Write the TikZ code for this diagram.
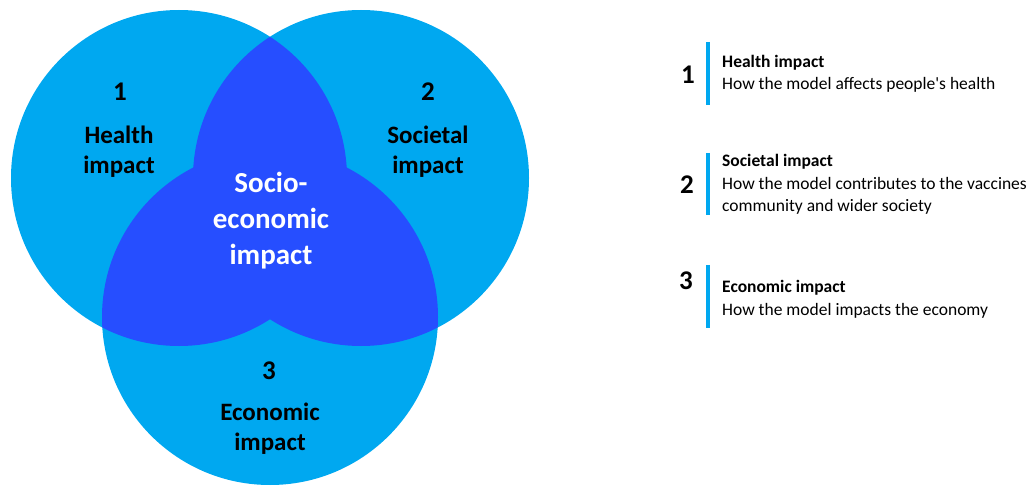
\documentclass[tikz,border=0pt]{standalone}
\usepackage{fontspec}
\setmainfont{Carlito}
\usetikzlibrary{calc}
\definecolor{lightblue}{RGB}{0,168,240}
\definecolor{deepblue}{RGB}{38,78,255}
\def\vennradius{168pt}
\tikzset{
	vennlabel/.style={align=center, inner sep=0pt, font=\fontsize{25}{30}\selectfont\bfseries},
	vennnum/.style={inner sep=0pt, anchor=base, font=\fontsize{27}{30}\selectfont\bfseries},
	centrelabel/.style={align=center, inner sep=0pt, text=white, font=\fontsize{29}{36}\selectfont\bfseries},
	listnum/.style={inner sep=0pt, anchor=base, font=\fontsize{27}{30}\selectfont\bfseries},
	listtext/.style={align=left, inner sep=0pt, anchor=base west, font=\fontsize{17.5}{22.5}\selectfont},
	listbar/.style={draw=lightblue, line width=4pt}
}

\begin{document}
\begin{tikzpicture}[x=1pt,y=-1pt]
				%%%%% START %%%%%
				\useasboundingbox (0,0) rectangle (1031,489);

				\coordinate (health) at (179,178);
				\coordinate (societal) at (361,178);
				\coordinate (economic) at (270,317);

				\fill[lightblue] (health) circle (\vennradius);
				\fill[lightblue] (societal) circle (\vennradius);
				\fill[lightblue] (economic) circle (\vennradius);

				\begin{scope}
					\clip (health) circle (\vennradius);
					\fill[deepblue] (societal) circle (\vennradius);
					\fill[deepblue] (economic) circle (\vennradius);
				\end{scope}
				\begin{scope}
					\clip (societal) circle (\vennradius);
					\fill[deepblue] (economic) circle (\vennradius);
				\end{scope}

				% anchor=base sits on the last line
				\node[vennnum] (num1) at (120,101) {1};
				\node[vennlabel, anchor=base] (health label) at (119,174) {Health\\impact};
				\node[vennnum] (num2) at (428,101) {2};
				\node[vennlabel, anchor=base] (societal label) at (428,174) {Societal\\impact};
				\node[vennnum] (num3) at (269,379) {3};
				\node[vennlabel, anchor=base] (economic label) at (270,450) {Economic\\impact};
				\node[centrelabel, anchor=base] (socio label) at (271,265) {Socio-\\economic\\impact};

				% list on the right
				\draw[listbar] (708,42) -- (708,105);
				\node[listnum] (item1 num) at (688,84) {1};
				\node[listtext] (item1 text) at (722,90) {\textbf{Health impact}\\How the model affects people\textquotesingle s health};

				\draw[listbar] (708,153) -- (708,215);
				\node[listnum] (item2 num) at (687,194) {2};
				\node[listtext] (item2 text) at (722,212) {\textbf{Societal impact}\\How the model contributes to the vaccines\\community and wider society};

				\draw[listbar] (708,265) -- (708,328);
				\node[listnum] (item3 num) at (686,290) {3};
				\node[listtext] (item3 text) at (722,315) {\textbf{Economic impact}\\How the model impacts the economy};
				%%%%% END %%%%%
			\end{tikzpicture}
\end{document}
